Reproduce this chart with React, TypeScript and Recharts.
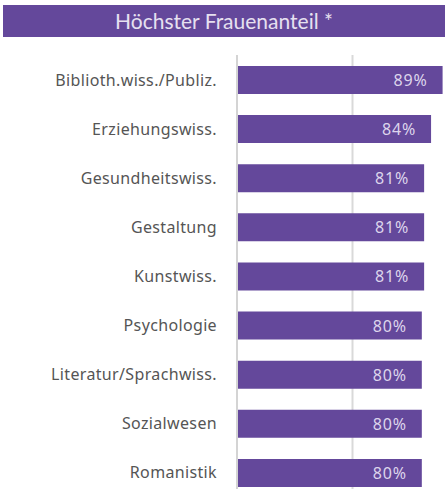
import React from 'react';
import { BarChart, Bar, XAxis, YAxis, CartesianGrid, LabelList } from 'recharts';

const categories = [
  'Biblioth.wiss./Publiz.',
  'Erziehungswiss.',
  'Gesundheitswiss.',
  'Gestaltung',
  'Kunstwiss.',
  'Psychologie',
  'Literatur/Sprachwiss.',
  'Sozialwesen',
  'Romanistik',
];
const shares = [89, 84, 81, 81, 81, 80, 80, 80, 80];
const xTicks = [0, 50, 100];
const titleText = 'Höchster Frauenanteil *';

const data = categories.map((name, i) => ({ name, value: shares[i] }));

const PURPLE = '#64489b';
const FONT = '"Noto Sans", sans-serif';
const TITLE_FONT = 'Lato, "Noto Sans", sans-serif';

const CatTick = (props: any) => {
  const { x, y, payload } = props;
  return (
    <text
      x={x}
      y={y}
      dy={6}
      textAnchor="end"
      fill="#555555"
      fontSize={16}
      fontFamily={FONT}
      style={{ letterSpacing: '0.35px' }}
    >
      {payload.value}
    </text>
  );
};

const ValueLabel = (props: any) => {
  const { x, y, width, height, value } = props;
  return (
    <text
      x={x + width - 15}
      y={y + height / 2}
      dy={6}
      textAnchor="end"
      fill="#ddd5ec"
      fontSize={16}
      fontFamily={FONT}
      style={{ letterSpacing: '0.8px' }}
    >
      {`${value}%`}
    </text>
  );
};

export default function App() {
  return (
    <div
      style={{
        position: 'absolute',
        left: 0,
        top: 0,
        width: 445,
        height: 489,
        overflow: 'hidden',
        background: '#fff',
        fontFamily: FONT,
      }}
    >
      <div style={{ position: 'absolute', left: 0, top: 0 }}>
        <BarChart
          width={468}
          height={497}
          data={data}
          layout="vertical"
          margin={{ top: 55, right: 0, bottom: 0, left: 0 }}
          barSize={28}
        >
          <CartesianGrid horizontal={false} stroke="#d9d9d9" strokeWidth={2} />
          <XAxis type="number" domain={[0, 100]} ticks={xTicks} hide />
          <YAxis
            type="category"
            dataKey="name"
            width={237}
            tickLine={false}
            tickSize={0}
            tickMargin={20}
            axisLine={{ stroke: '#d4d4d4', strokeWidth: 2 }}
            tick={<CatTick />}
            interval={0}
          />
          <Bar dataKey="value" fill={PURPLE} isAnimationActive={false}>
            <LabelList dataKey="value" content={<ValueLabel />} />
          </Bar>
        </BarChart>
      </div>
      <div
        style={{
          position: 'absolute',
          left: 3,
          top: 5,
          width: 442,
          height: 32,
          background: PURPLE,
          color: '#e6e0f0',
          fontSize: 21,
          lineHeight: '32px',
          textAlign: 'center',
          fontFamily: TITLE_FONT,
        }}
      >
        {titleText}
      </div>
    </div>
  );
}
